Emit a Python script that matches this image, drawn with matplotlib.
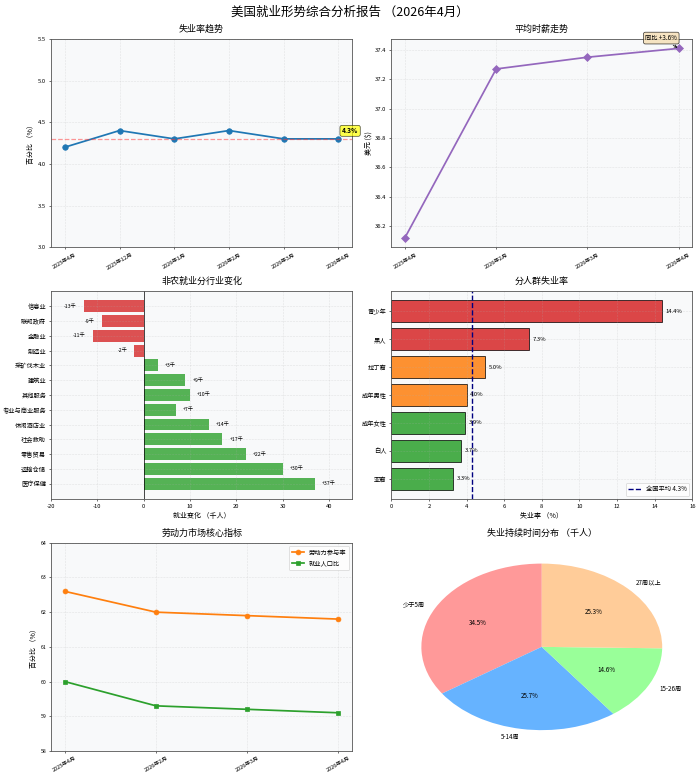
import matplotlib
matplotlib.use("Agg")
import matplotlib.pyplot as plt
import numpy as np

plt.rcParams['font.family'] = ['Noto Sans CJK SC', 'DejaVu Sans']
plt.rcParams['axes.unicode_minus'] = False

# unemployment rate trend
ur_months = ["2025年4月", "2025年12月", "2026年1月", "2026年2月", "2026年3月", "2026年4月"]
ur_values = [4.2, 4.4, 4.3, 4.4, 4.3, 4.3]

# average hourly wage
wage_months = ["2025年4月", "2026年2月", "2026年3月", "2026年4月"]
wage_values = [36.12, 37.27, 37.35, 37.41]

# nonfarm payroll change by industry (thousands), bottom to top
industries = ["医疗保健", "运输仓储", "零售贸易", "社会救助", "休闲酒店业", "专业与商业服务",
              "其他服务", "建筑业", "采矿伐木业", "制造业", "金融业", "联邦政府", "信息业"]
ind_change = [37, 30, 22, 17, 14, 7, 10, 9, 3, -2, -11, -9, -13]

# unemployment by group, bottom to top
groups = ["亚裔", "白人", "成年女性", "成年男性", "拉丁裔", "黑人", "青少年"]
group_rates = [3.3, 3.7, 3.9, 4.0, 5.0, 7.3, 14.4]
group_colors = ["#2ca02c", "#2ca02c", "#2ca02c", "#ff7f0e", "#ff7f0e", "#d62728", "#d62728"]

# labour force indicators
lf_months = ["2025年4月", "2026年2月", "2026年3月", "2026年4月"]
lfpr = [62.6, 62.0, 61.9, 61.8]
epop = [60.0, 59.3, 59.2, 59.1]

# unemployment duration (thousands)
dur_labels = ["少于5周", "5-14周", "15-26周", "27周以上"]
dur_values = [2484, 1850, 1051, 1822]
dur_colors = ["#ff9999", "#66b3ff", "#99ff99", "#ffcc99"]

national = 4.3
BG = "#f8f9fa"

fig, axes = plt.subplots(3, 2, figsize=(14, 15.58), dpi=50)
fig.subplots_adjust(left=0.073, right=0.989, top=0.95, bottom=0.036, hspace=0.21, wspace=0.13)
fig.suptitle("美国就业形势综合分析报告 （2026年4月）", fontsize=18, y=0.993)


def style(ax):
    ax.set_facecolor(BG)
    ax.grid(True, linestyle="--", alpha=0.3)
    for s in ax.spines.values():
        s.set_color("#555555")
        s.set_linewidth(1.2)
    ax.tick_params(labelsize=8.5)


# 1. unemployment trend
ax = axes[0, 0]
style(ax)
x = np.arange(len(ur_months))
ax.plot(x, ur_values, marker="o", color="#1f77b4", linewidth=2.5, markersize=8)
ax.axhline(national, color="#ff3333", linestyle="--", alpha=0.5, linewidth=1.8)
ax.set_ylim(3.0, 5.5)
ax.set_xticks(x)
ax.set_xticklabels(ur_months, rotation=30, fontsize=8)
ax.set_ylabel("百分比 （%）", fontsize=10)
ax.set_title("失业率趋势", fontsize=13, pad=10)
ax.annotate(f"{ur_values[-1]}%", (x[-1], ur_values[-1]), xytext=(5, 8), textcoords="offset points",
            fontsize=9.5, fontweight="bold",
            bbox=dict(boxstyle="round,pad=0.3", facecolor="yellow", alpha=0.7))

# 2. wages
ax = axes[0, 1]
style(ax)
x = np.arange(len(wage_months))
ax.plot(x, wage_values, marker="D", color="#9467bd", linewidth=2.5, markersize=8)
ax.set_xticks(x)
ax.set_xticklabels(wage_months, rotation=30, fontsize=8)
ax.set_ylabel("美元 ($)", fontsize=10)
ax.set_title("平均时薪走势", fontsize=13, pad=10)
yoy = (wage_values[-1] / wage_values[0] - 1) * 100
ax.annotate(f"同比 +{yoy:.1f}%", (x[-1], wage_values[-1]), xytext=(-25, 12), textcoords="offset points",
            fontsize=9, ha="center",
            bbox=dict(boxstyle="round,pad=0.3", facecolor="wheat", alpha=0.8),
            arrowprops=dict(arrowstyle="->", color="black"))

# 3. industries
ax = axes[1, 0]
style(ax)
y = np.arange(len(industries))
colors = ["#2ca02c" if v > 0 else "#d62728" for v in ind_change]
ax.barh(y, ind_change, color=colors, alpha=0.8)
ax.axvline(0, color="black", linewidth=1)
ax.set_yticks(y)
ax.set_yticklabels(industries, fontsize=9)
ax.set_xlim(-20, 45)
ax.set_xlabel("就业变化 （千人）", fontsize=10)
ax.set_title("非农就业分行业变化", fontsize=13, pad=10)
for yi, v in zip(y, ind_change):
    if v > 0:
        ax.text(v + 1.5, yi, f"+{v}千", va="center", ha="left", fontsize=7.5)
    else:
        ax.text(v - 1.5, yi, f"{v}千", va="center", ha="right", fontsize=7.5)

# 4. groups
ax = axes[1, 1]
style(ax)
y = np.arange(len(groups))
ax.barh(y, group_rates, color=group_colors, alpha=0.85, edgecolor="black", linewidth=1.2, height=0.78)
ax.axvline(national, color="navy", linestyle="--", linewidth=2, label=f"全国平均 {national}%")
ax.set_yticks(y)
ax.set_yticklabels(groups, fontsize=9)
ax.set_xlim(0, 16)
ax.set_xlabel("失业率 （%）", fontsize=10)
ax.set_title("分人群失业率", fontsize=13, pad=10)
for yi, v in zip(y, group_rates):
    ax.text(v + 0.2, yi, f"{v}%", va="center", fontsize=8.5)
ax.legend(loc="lower right", fontsize=9)

# 5. labour force
ax = axes[2, 0]
style(ax)
x = np.arange(len(lf_months))
ax.plot(x, lfpr, marker="o", color="#ff7f0e", linewidth=2.5, markersize=7, label="劳动力参与率")
ax.plot(x, epop, marker="s", color="#2ca02c", linewidth=2.5, markersize=7, label="就业人口比")
ax.set_ylim(58, 64)
ax.set_xticks(x)
ax.set_xticklabels(lf_months, rotation=30, fontsize=8)
ax.tick_params(axis="y", labelsize=7.5)
ax.set_ylabel("百分比 （%）", fontsize=10)
ax.set_title("劳动力市场核心指标", fontsize=13, pad=10)
ax.legend(loc="upper right", fontsize=9)

# 6. duration pie
ax = axes[2, 1]
ax.pie(dur_values, labels=dur_labels, colors=dur_colors, autopct="%1.1f%%", startangle=90,
       textprops={"fontsize": 9})
ax.set_aspect("auto")
ax.set_title("失业持续时间分布 （千人）", fontsize=13, pad=10)

fig.savefig("out.png", dpi=50)
